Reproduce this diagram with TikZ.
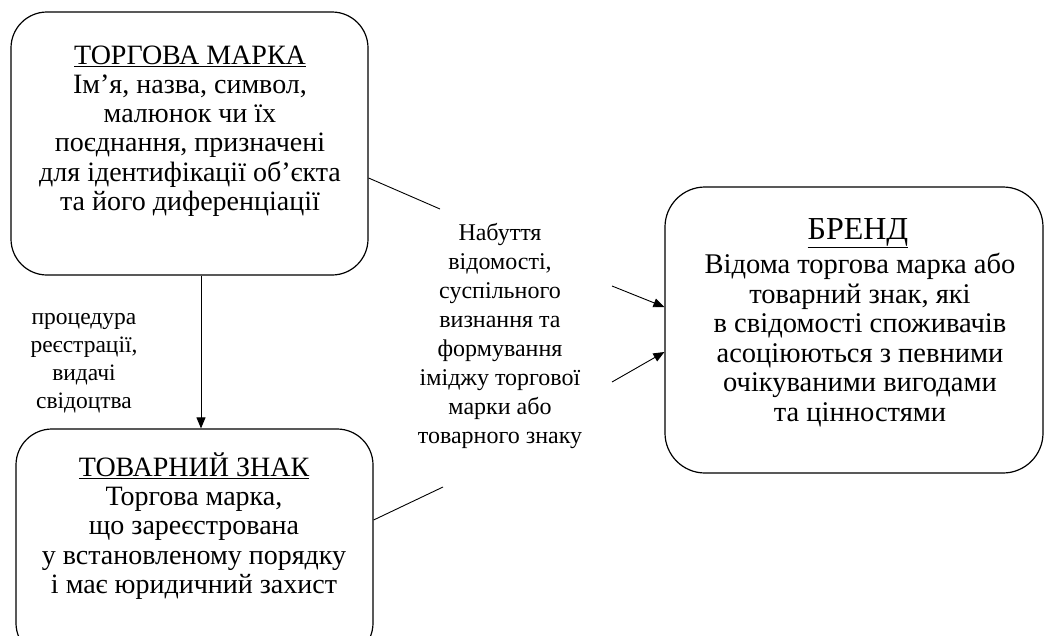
\documentclass[tikz,border=0pt]{standalone}
\usepackage{fontspec}
\setmainfont{Liberation Serif}
\usetikzlibrary{arrows.meta,calc}
\begin{document}
\begin{tikzpicture}[x=1pt,y=-1pt,
  box/.style={draw,line width=1.2pt,rounded corners=36pt,inner sep=0pt},
  txt/.style={align=center,font=\fontsize{28}{29.3}\selectfont,inner sep=0pt},
  small/.style={align=center,font=\fontsize{24}{29}\selectfont,inner sep=0pt},
  conn/.style={line width=0.9pt},
  arr/.style={line width=0.9pt,-{Triangle[length=11pt,width=9pt]}}]
\useasboundingbox (0,0) rectangle (1044,635);
% boxes
\node[box,minimum width=357pt,minimum height=263pt] (tm) at (189.5,143.5) {};
\node[box,minimum width=357pt,minimum height=230pt] (tz) at (194.5,544) {};
\node[box,minimum width=378pt,minimum height=286pt,rounded corners=40pt] (br) at (854,330) {};
% texts
\node[txt] (tmt) at (190,131) {\underline{ТОРГОВА МАРКА}\\Ім’я, назва, символ,\\малюнок чи їх\\поєднання, призначені\\для ідентифікації об’єкта\\та його диференціації};
\node[txt] (tzt) at (194,526) {\underline{ТОВАРНИЙ ЗНАК}\\Торгова марка,\\що зареєстрована\\у встановленому порядку\\і має юридичний захист};
\node[txt,font=\fontsize{32}{33}\selectfont] (brtitle) at (858,233) {\underline{БРЕНД}};
\node[txt,font=\fontsize{28.5}{29.6}\selectfont] (brt) at (860,340) {Відома торгова марка або\\товарний знак, які\\ в свідомості споживачів\\асоціюються з певними\\очікуваними вигодами\\та цінностями};
\node[small] (lbl) at (500,336) {Набуття\\відомості,\\суспільного\\визнання та\\формування\\іміджу торгової\\марки або\\товарного знаку};
\node[small,font=\fontsize{23.5}{28}\selectfont] (proc) at (84,363) {процедура\\реєстрації,\\видачі\\свідоцтва};
% connector end points
\coordinate (c1) at (440,209);
\coordinate (c2) at (443,487);
\coordinate (a1) at (612,286);
\coordinate (a2) at (612,382);
% connectors
\draw[conn] (tm.east |- 0,178) -- (c1);
\draw[conn] (tz.east |- 0,520) -- (c2);
\draw[arr] (a1) -- (br.west |- 0,307);
\draw[arr] (a2) -- (br.west |- 0,352);
\draw[arr] (tm.south -| 201,0) -- (tz.north -| 201,0);
\end{tikzpicture}
\end{document}
